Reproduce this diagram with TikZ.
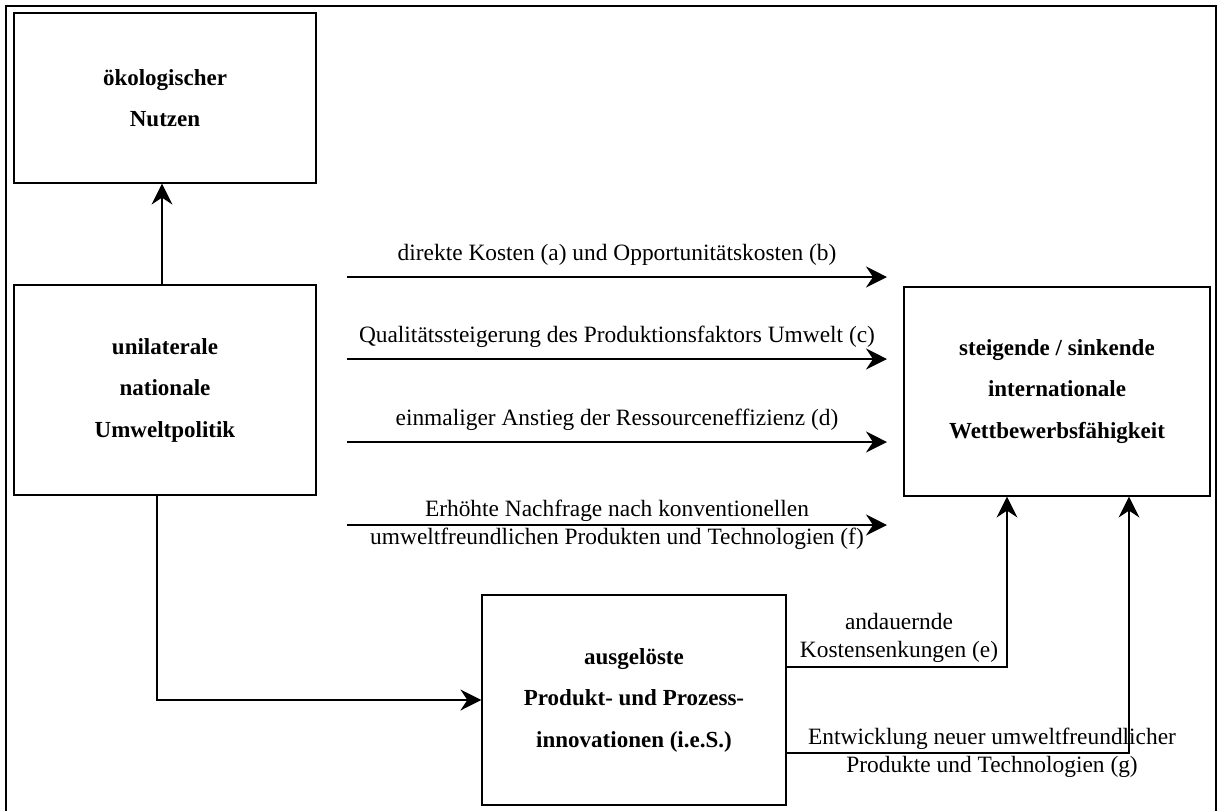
\documentclass[tikz,border=0pt]{standalone}
\usepackage{fontspec}
\setmainfont{Liberation Serif}
\usetikzlibrary{arrows.meta}

\tikzset{
  kasten/.style={draw, line width=0.6pt, minimum width=151pt, minimum height=105pt,
    inner sep=0pt, align=center, font=\fontsize{11.5}{20.75}\selectfont\bfseries},
  pfeil/.style={line width=0.9pt, -{Stealth[length=10.5pt,width=10.5pt,inset=3.5pt]}},
  beschr/.style={align=center, font=\fontsize{11.7}{14}\selectfont}
}

\begin{document}
\begin{tikzpicture}[x=0.5pt, y=-0.5pt]
		\useasboundingbox (0,0) rectangle (1223,811);
		
		% rahmen
		\draw[line width=1pt] (6,811) -- (6,6) -- (1216,6) -- (1216,811);
		
		% kästen
		\node[kasten, minimum height=85pt] (nutzen) at (165,98) {ökologischer\\Nutzen};
		\node[kasten] (politik) at (165,390) {unilaterale\\nationale\\Umweltpolitik};
		\node[kasten, minimum width=153pt, minimum height=104.5pt] (wettbewerb) at (1057,391.5)
		{steigende / sinkende\\internationale\\Wettbewerbsfähigkeit};
		\node[kasten, minimum width=152pt] (innov) at (634,700)
		{ausgelöste\\Produkt- und Prozess-\\innovationen (i.e.S.)};
		
		% pfeile von der umweltpolitik
		\draw[pfeil] ([xshift=-1.5pt]politik.north) -- ([xshift=-1.5pt]nutzen.south);
		\draw[pfeil] ([xshift=-4pt]politik.south) |- (innov.west);
		
		% waagerechte pfeile
		\coordinate (a1) at (347,277);
		\coordinate (b1) at (887,277);
		\coordinate (a2) at (347,359);
		\coordinate (b2) at (887,359);
		\coordinate (a3) at (347,442);
		\coordinate (b3) at (887,442);
		\coordinate (a4) at (347,525);
		\coordinate (b4) at (887,525);
		
		\draw[pfeil] (a1) -- (b1) node[midway, above=2pt, beschr] {direkte Kosten (a) und Opportunitätskosten (b)};
		\draw[pfeil] (a2) -- (b2) node[midway, above=2pt, beschr] {Qualitätssteigerung des Produktionsfaktors Umwelt (c)};
		\draw[pfeil] (a3) -- (b3) node[midway, above=2pt, beschr] {einmaliger Anstieg der Ressourceneffizienz (d)};
		\draw[pfeil] (a4) -- (b4) node[midway, beschr]
		{Erhöhte Nachfrage nach konventionellen\\umweltfreundlichen Produkten und Technologien (f)};
		
		% pfeile von den innovationen
		\draw[pfeil] ([yshift=16.5pt]innov.east) -| ([xshift=-25pt]wettbewerb.south)
		node[pos=0.5, anchor=south east, inner sep=2pt, xshift=-2pt, beschr] {andauernde\\Kostensenkungen (e)};
		\draw[pfeil] ([yshift=-26.5pt]innov.east) -| ([xshift=36pt]wettbewerb.south)
		node[pos=0.3, beschr] {Entwicklung neuer umweltfreundlicher\\Produkte und Technologien (g)};
		
\end{tikzpicture}
\end{document}
